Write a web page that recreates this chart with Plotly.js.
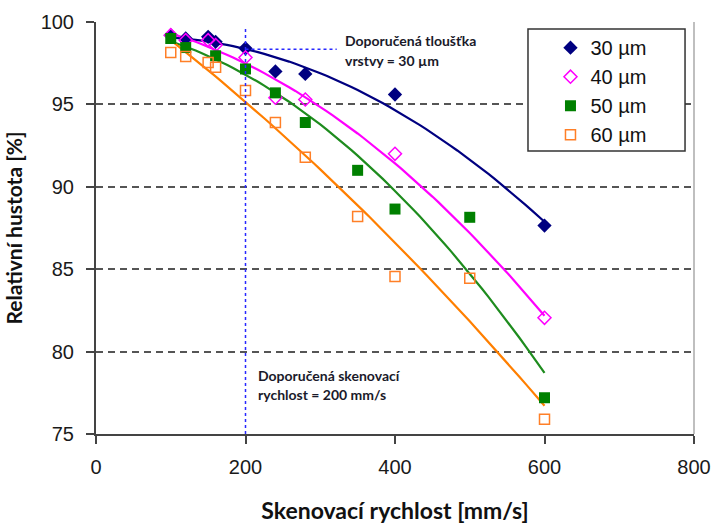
<!DOCTYPE html>
<html>
<head>
<meta charset="utf-8">
<script src="https://cdn.plot.ly/plotly-3.0.1.min.js"></script>
<style>html,body{margin:0;padding:0;background:#fff;}#chart{width:715px;height:524px;}</style>
</head>
<body>
<div id="chart"></div>
<script>
// ---- data ----
const seriesNames = ["30 µm", "40 µm", "50 µm", "60 µm"];
const x30 = [100, 120, 150, 160, 200, 240, 280, 400, 600];
const y30 = [99.2, 99.0, 99.1, 98.8, 98.4, 97.0, 96.85, 95.6, 87.65];
const x40 = [100, 120, 150, 160, 200, 240, 280, 400, 600];
const y40 = [99.2, 98.9, 98.9, 98.6, 97.85, 95.4, 95.3, 92.0, 82.05];
const x50 = [100, 120, 160, 200, 240, 280, 350, 400, 500, 600];
const y50 = [99.0, 98.45, 97.95, 97.15, 95.7, 93.9, 91.0, 88.65, 88.15, 77.2];
const x60 = [100, 120, 150, 160, 200, 240, 280, 350, 400, 500, 600];
const y60 = [98.15, 97.9, 97.55, 97.25, 95.85, 93.9, 91.8, 88.2, 84.55, 84.45, 75.9];
const xTicks = [0, 200, 400, 600, 800];
const yTicks = [75, 80, 85, 90, 95, 100];
const recSpeed = 200;      // doporučená skenovací rychlost
const recDensity = 98.35;  // level of the 30 µm point at 200 mm/s
const recLineEnd = 322;
const noteThickness = ["Doporučená tloušťka", "vrstvy = 30 µm"];
const noteSpeed = ["Doporučená skenovací", "rychlost = 200 mm/s"];

const colors = ["#000080", "#FF00FF", "#008000", "#FF7F27"];
const lineColors = ["#000080", "#FF00FF", "#1E8C1E", "#FF7F00"];
const symbols = ["diamond", "diamond-open", "square", "square-open"];

// quadratic least-squares trendline (like spreadsheet polynomial trendline)
function polyfit2(xs, ys) {
  let s = [0,0,0,0,0], t = [0,0,0];
  for (let i = 0; i < xs.length; i++) {
    let p = 1;
    for (let k = 0; k < 5; k++) { s[k] += p; if (k < 3) t[k] += p * ys[i]; p *= xs[i]; }
  }
  const A = [[s[0], s[1], s[2], t[0]], [s[1], s[2], s[3], t[1]], [s[2], s[3], s[4], t[2]]];
  for (let c = 0; c < 3; c++) {
    for (let r = c + 1; r < 3; r++) {
      const f = A[r][c] / A[c][c];
      for (let k = c; k < 4; k++) A[r][k] -= f * A[c][k];
    }
  }
  const b = [0,0,0];
  for (let r = 2; r >= 0; r--) {
    let v = A[r][3];
    for (let k = r + 1; k < 3; k++) v -= A[r][k] * b[k];
    b[r] = v / A[r][r];
  }
  return b;
}
function trend(xs, ys) {
  const b = polyfit2(xs, ys);
  const x0 = Math.min(...xs), x1 = Math.max(...xs);
  const tx = [], ty = [];
  for (let i = 0; i <= 60; i++) {
    const x = x0 + (x1 - x0) * i / 60;
    tx.push(x); ty.push(b[0] + b[1] * x + b[2] * x * x);
  }
  return [tx, ty];
}

const X = [x30, x40, x50, x60], Y = [y30, y40, y50, y60];
const traces = [];
for (let i = 0; i < 4; i++) {
  const [tx, ty] = trend(X[i], Y[i]);
  traces.push({x: tx, y: ty, type: "scatter", mode: "lines", showlegend: false, hoverinfo: "skip",
    line: {color: lineColors[i], width: 2.2}});
}
for (let i = 0; i < 4; i++) {
  traces.push({x: X[i], y: Y[i], type: "scatter", mode: "markers", name: seriesNames[i],
    marker: {symbol: symbols[i], color: colors[i], size: (i % 2 === 0 ? 11 : 10),
      line: {color: colors[i], width: (i % 2 === 1 ? 1.5 : 0)}}});
}
// recommendation guide lines
traces.push({x: [recSpeed, recSpeed], y: [75, 99.65], type: "scatter", mode: "lines", showlegend: false,
  hoverinfo: "skip", line: {color: "#2828FF", width: 1.5, dash: "dot"}});
traces.push({x: [recSpeed, recLineEnd], y: [recDensity, recDensity], type: "scatter", mode: "lines", showlegend: false,
  hoverinfo: "skip", line: {color: "#2828FF", width: 1.5, dash: "dot"}});

const tickFont = {family: "Liberation Sans, Arial, sans-serif", size: 20, color: "#1a1a1a"};
const annFont = {family: "Lato, Open Sans, sans-serif", size: 14, color: "#1a1a2a", weight: "bold"};

function note(x, y, txt) {
  return {xref: "x", yref: "y", x: x, y: y, xanchor: "left", yanchor: "middle", showarrow: false,
    align: "left", text: txt, font: annFont};
}

const layout = {
  width: 715, height: 524,
  margin: {l: 96, r: 21, t: 22, b: 90},
  paper_bgcolor: "#fff", plot_bgcolor: "#fff",
  showlegend: true,
  xaxis: {
    range: [0, 800], tickvals: xTicks, ticktext: xTicks.map(String),
    showgrid: false, zeroline: false,
    showline: true, linecolor: "#444", linewidth: 2,
    ticks: "outside", ticklen: 8, tickwidth: 2, tickcolor: "#444",
    tickfont: tickFont, ticklabelstandoff: 6,
    title: {text: "Skenovací rychlost [mm/s]", font: {family: "Lato, Open Sans, sans-serif", size: 23, color: "#111", weight: "bold"}, standoff: 30}
  },
  yaxis: {
    range: [75, 100], tickvals: yTicks, ticktext: yTicks.map(String),
    showgrid: true, gridcolor: "#555", gridwidth: 2, griddash: "7px,5px",
    zeroline: false,
    showline: true, linecolor: "#444", linewidth: 2,
    ticks: "outside", ticklen: 8, tickwidth: 2, tickcolor: "#444",
    tickfont: tickFont, ticklabelstandoff: 8,
    title: {text: "Relativní hustota [%]", font: {family: "Lato, Open Sans, sans-serif", size: 21, color: "#111", weight: "bold"}, standoff: 12}
  },
  legend: {
    x: 0.76, xanchor: "left", y: 0.985, yanchor: "top",
    bgcolor: "rgba(0,0,0,0)", borderwidth: 0,
    font: {family: "Liberation Sans, Arial, sans-serif", size: 20, color: "#111"},
    tracegroupgap: 0
  },
  shapes: [
    {type: "line", xref: "paper", yref: "paper", x0: 1, x1: 1, y0: 0, y1: 1,
      line: {color: "#aaa", width: 1.5}, layer: "above"},
    {type: "rect", xref: "paper", yref: "paper", x0: 0.7224, x1: 0.985, y0: 0.687, y1: 0.983,
      line: {color: "#333", width: 1.5}, fillcolor: "#fff", layer: "above"}
  ],
  annotations: [
    note(330, 98.85, noteThickness[0]),
    note(330, 97.64, noteThickness[1]),
    note(214, 78.56, noteSpeed[0]),
    note(214, 77.38, noteSpeed[1])
  ]
};

Plotly.newPlot("chart", traces, layout, {staticPlot: true, displayModeBar: false});
</script>
</body>
</html>
